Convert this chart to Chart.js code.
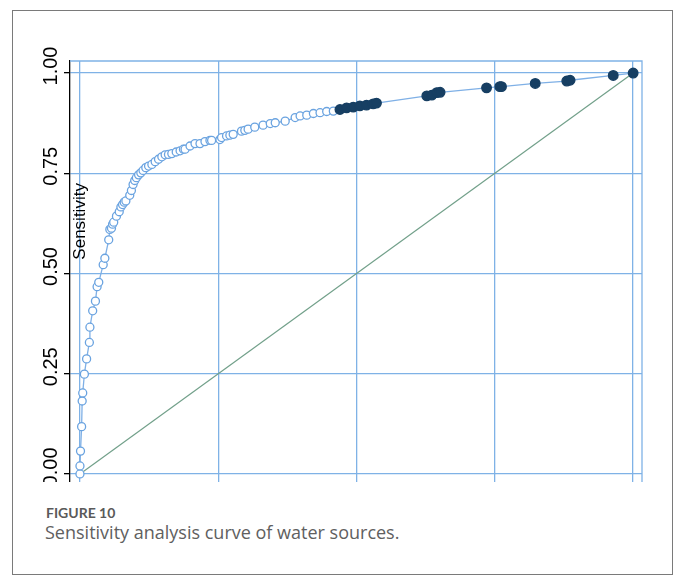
<!DOCTYPE html>
<html>
<head>
<meta charset="utf-8">
<script src="https://cdn.jsdelivr.net/npm/chart.js@4/dist/chart.umd.min.js"></script>
<style>
  html, body { margin: 0; padding: 0; background: #fff; }
  #frame { position: absolute; left: 12px; top: 10px; width: 661px; height: 565px;
           border: 1.5px solid #7a7a7a; box-sizing: border-box; }
  #plot { position: absolute; left: 0; top: 0; width: 680px; height: 482px; overflow: hidden; }
  #plot canvas { position: absolute; left: 0; top: 0; }
  .fig-label { position: absolute; left: 46px; top: 506px; font-family: Lato, "Open Sans", sans-serif;
               font-weight: 700; font-size: 14px; line-height: 14px; color: #5a5a5a; white-space: nowrap; }
  .fig-caption { position: absolute; left: 45px; top: 523px; font-family: "Open Sans", Lato, sans-serif;
                 font-weight: 400; font-size: 18px; line-height: 18px; color: #606060; white-space: nowrap; }
</style>
</head>
<body>
<div id="frame"></div>
<div id="plot"><canvas id="roc" width="680" height="500"></canvas></div>
<div class="fig-label">FIGURE 10</div>
<div class="fig-caption">Sensitivity analysis curve of water sources.</div>
<script>
// ROC points for the lower cutoffs (drawn as open circles)
const fprOpen = [0, 0, 0.001, 0.003, 0.004, 0.005, 0.008, 0.012, 0.017, 0.018, 0.023, 0.028, 0.031, 0.034,
  0.042, 0.045, 0.052, 0.054, 0.057, 0.059, 0.061, 0.066, 0.071, 0.074, 0.077, 0.080, 0.083, 0.090, 0.093,
  0.096, 0.099, 0.102, 0.106, 0.110, 0.114, 0.119, 0.124, 0.130, 0.136, 0.142, 0.148, 0.154, 0.160, 0.166,
  0.174, 0.181, 0.187, 0.190, 0.199, 0.208, 0.217, 0.226, 0.235, 0.238, 0.253, 0.256, 0.265, 0.271, 0.277,
  0.292, 0.298, 0.304, 0.316, 0.331, 0.344, 0.353, 0.371, 0.389, 0.398, 0.410, 0.422, 0.434, 0.446, 0.458];
const tprOpen = [0, 0.020, 0.057, 0.118, 0.182, 0.202, 0.249, 0.287, 0.328, 0.366, 0.407, 0.431, 0.467, 0.478,
  0.522, 0.538, 0.584, 0.610, 0.613, 0.623, 0.628, 0.643, 0.654, 0.666, 0.672, 0.678, 0.681, 0.695, 0.707,
  0.722, 0.732, 0.739, 0.746, 0.751, 0.757, 0.764, 0.768, 0.772, 0.779, 0.785, 0.791, 0.796, 0.797, 0.799,
  0.803, 0.806, 0.810, 0.810, 0.818, 0.824, 0.824, 0.829, 0.832, 0.832, 0.834, 0.839, 0.843, 0.845, 0.847,
  0.855, 0.857, 0.860, 0.865, 0.870, 0.874, 0.876, 0.880, 0.889, 0.893, 0.895, 0.899, 0.901, 0.904, 0.905];

// ROC points for the upper cutoffs (drawn as filled circles)
const fprFilled = [0.470, 0.482, 0.494, 0.506, 0.518, 0.530, 0.536, 0.627, 0.636, 0.645, 0.651,
  0.735, 0.759, 0.762, 0.823, 0.880, 0.886, 0.964, 1.0];
const tprFilled = [0.909, 0.913, 0.915, 0.918, 0.920, 0.923, 0.925, 0.943, 0.945, 0.951, 0.952,
  0.963, 0.966, 0.966, 0.974, 0.980, 0.982, 0.994, 1.0];

// Chance line
const diagX = [0, 1];
const diagY = [0, 1];

// Axis ticks
const xTicks = [0, 0.25, 0.5, 0.75, 1];
const yTicks = [0, 0.25, 0.5, 0.75, 1];
const yTickLabels = ['0.00', '0.25', '0.50', '0.75', '1.00'];
const yTitle = 'Sensitivity';

const gridBlue = '#7fb2e6';
const nOpen = fprOpen.length;
const rocData = fprOpen.map((x, i) => ({ x, y: tprOpen[i] }))
  .concat(fprFilled.map((x, i) => ({ x, y: tprFilled[i] })));
const diagData = diagX.map((x, i) => ({ x, y: diagY[i] }));

const decor = {
  id: 'decor',
  beforeDatasetsDraw(chart) {
    const { ctx, chartArea: a } = chart;
    ctx.save();
    ctx.strokeStyle = gridBlue;
    ctx.lineWidth = 1.3;
    ctx.beginPath();
    ctx.moveTo(a.left, a.top);
    ctx.lineTo(a.right, a.top);
    ctx.lineTo(a.right, a.bottom);
    ctx.stroke();
    ctx.restore();
  },
  afterDraw(chart) {
    const { ctx } = chart;
    const ys = chart.scales.y;
    const xs = chart.scales.x;
    ctx.save();
    ctx.fillStyle = '#000';
    ctx.font = '20px "Liberation Sans", Arial, sans-serif';
    ctx.textAlign = 'center';
    ctx.textBaseline = 'alphabetic';
    yTicks.forEach((v, i) => {
      const py = ys.getPixelForValue(v) - 7;
      ctx.save();
      ctx.translate(57, py);
      ctx.rotate(-Math.PI / 2);
      ctx.fillText(yTickLabels[i], 0, 0);
      ctx.restore();
    });
    ctx.font = '17px "Liberation Sans", Arial, sans-serif';
    ctx.save();
    ctx.translate(xs.getPixelForValue(0) + 5, ys.getPixelForValue(0.63));
    ctx.rotate(-Math.PI / 2);
    ctx.fillText(yTitle, 0, 0);
    ctx.restore();
    ctx.restore();
  }
};

new Chart(document.getElementById('roc'), {
  type: 'scatter',
  data: {
    datasets: [
      {
        label: 'Sensitivity',
        data: rocData,
        showLine: true,
        borderColor: '#7fb0e6',
        borderWidth: 1.3,
        pointRadius: c => c.dataIndex < nOpen ? 4 : 4.8,
        pointBorderWidth: 1.3,
        pointBackgroundColor: c => c.dataIndex < nOpen ? '#ffffff' : '#173f63',
        pointBorderColor: c => c.dataIndex < nOpen ? '#6aa3e0' : '#173f63',
        order: 1
      },
      {
        label: 'Chance',
        data: diagData,
        showLine: true,
        borderColor: '#72a08a',
        borderWidth: 1.2,
        pointRadius: 0,
        order: 2
      }
    ]
  },
  options: {
    responsive: false,
    animation: false,
    layout: { padding: { left: 0, top: 61, right: 38, bottom: 0 } },
    plugins: { legend: { display: false }, tooltip: { enabled: false } },
    scales: {
      x: {
        type: 'linear', min: -0.018, max: 1.016,
        afterBuildTicks: s => { s.ticks = xTicks.map(v => ({ value: v })); },
        afterFit: s => { s.height = 8; },
        ticks: { display: false },
        grid: { color: gridBlue, lineWidth: 1.3, drawTicks: false },
        border: { display: false }
      },
      y: {
        type: 'linear', min: -0.045, max: 1.03,
        afterBuildTicks: s => { s.ticks = yTicks.map(v => ({ value: v })); },
        afterFit: s => { s.width = 70; },
        ticks: { display: false },
        grid: { color: gridBlue, lineWidth: 1.3, drawTicks: true, tickLength: 6, tickColor: '#000', tickWidth: 1.3 },
        border: { display: true, color: '#000', width: 1.3 }
      }
    }
  },
  plugins: [decor]
});
</script>
</body>
</html>
